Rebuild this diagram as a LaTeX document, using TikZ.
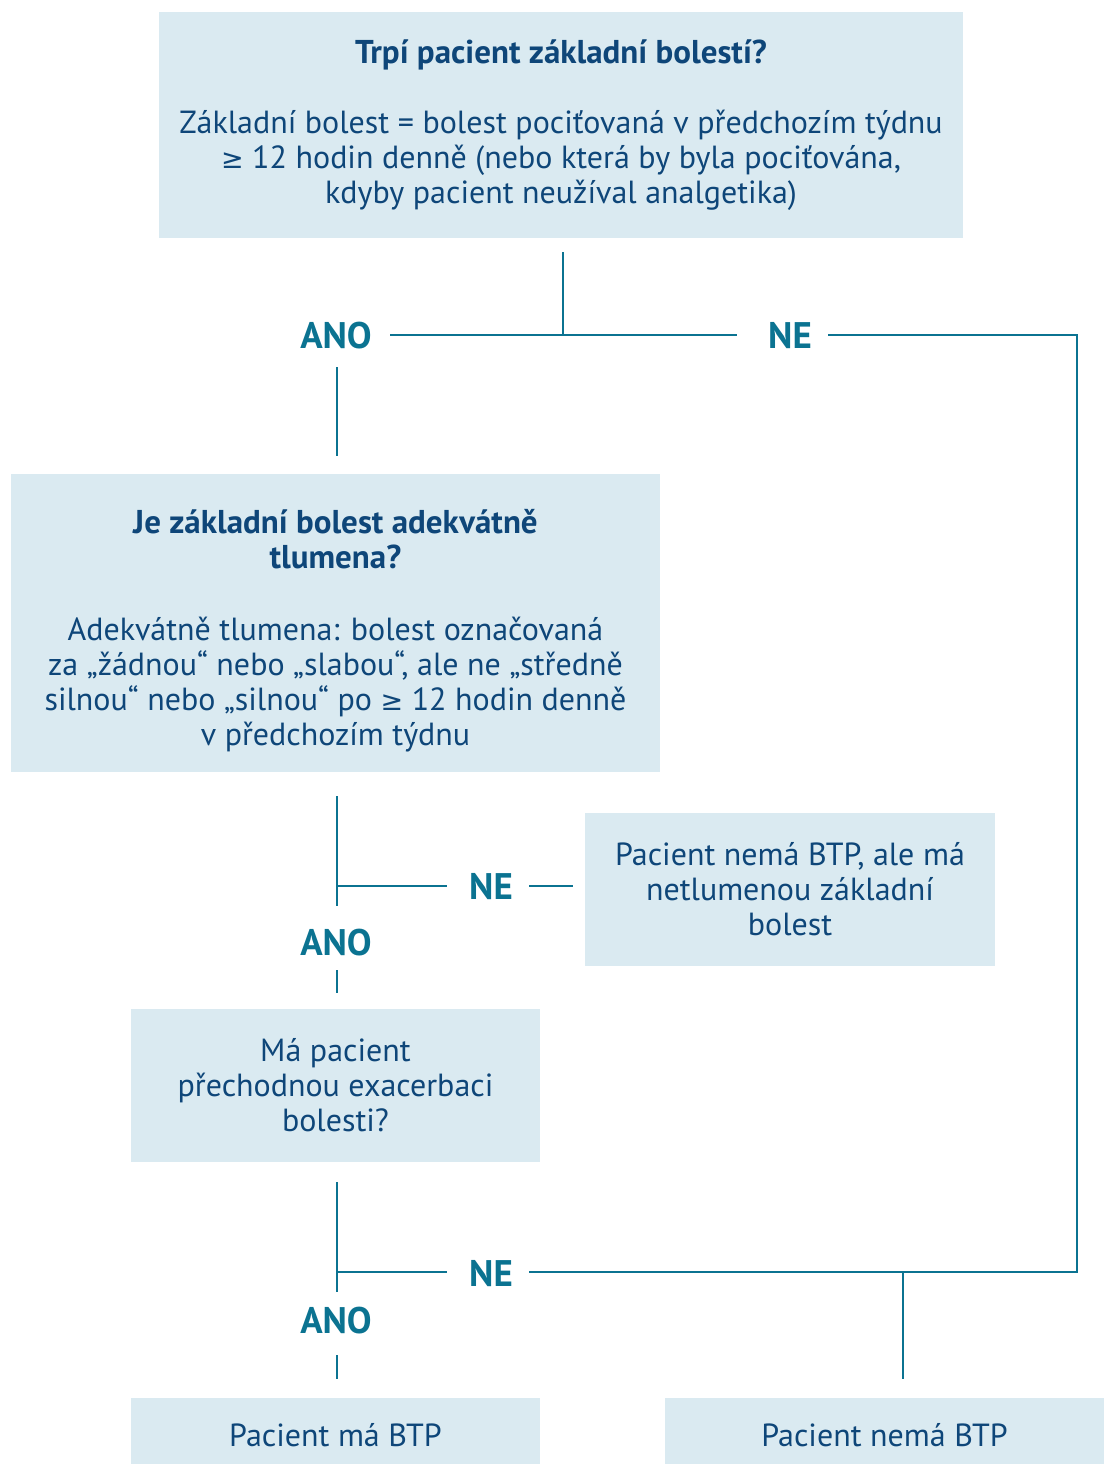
\documentclass[tikz,border=0pt]{standalone}
\usepackage{fontspec}
\setmainfont{PT Sans}
\newfontfamily\symfont{DejaVu Sans}
\newcommand{\mygeq}{{\symfont\fontsize{27}{35}\selectfont ≥}}
\definecolor{boxfill}{HTML}{DAEAF1}
\definecolor{txtblue}{HTML}{0E4679}
\definecolor{lineteal}{HTML}{0B7391}
\newcommand{\ttl}{\fontsize{33}{35}\selectfont\bfseries}
\begin{document}
\begin{tikzpicture}[x=1pt,y=-1pt,
  box/.style={fill=boxfill, text=txtblue, align=center, inner sep=0pt,
    font=\fontsize{32}{35}\selectfont},
  lab/.style={text=lineteal, font=\fontsize{37}{40}\selectfont\bfseries, inner sep=0pt},
  conn/.style={draw=lineteal, line width=2.4pt}]
\useasboundingbox (0,0) rectangle (1104,1464);

% boxes
\node[box, minimum width=804pt, minimum height=226pt] (b1) at (561,125)
  {{\ttl Trpí pacient základní bolestí?}\\[35pt]
   Základní bolest = bolest pociťovaná v předchozím týdnu\\
   \mygeq{} 12 hodin denně (nebo která by byla pociťována,\\
   kdyby pacient neužíval analgetika)};
\node[box, minimum width=649pt, minimum height=298pt] (b2) at (335.5,623)
  {\rule{0pt}{40pt}{\ttl Je základní bolest adekvátně}\\
   {\ttl tlumena?}\\[37pt]
   Adekvátně tlumena: bolest označovaná\\
   za „žádnou“ nebo „slabou“, ale ne „středně\\
   silnou“ nebo „silnou“ po \mygeq{} 12 hodin denně\\
   v předchozím týdnu};
\node[box, minimum width=410pt, minimum height=153pt] (b3) at (790,889.5)
  {Pacient nemá BTP, ale má\\ netlumenou základní\\ bolest};
\node[box, minimum width=409pt, minimum height=153pt] (b4) at (335.5,1085.5)
  {Má pacient\\ přechodnou exacerbaci\\ bolesti?};
\node[box, minimum width=409pt, minimum height=66pt] (b5) at (335.5,1431)
  {\rule{0pt}{32pt}Pacient má BTP};
\node[box, minimum width=439pt, minimum height=66pt] (b6) at (884.5,1431)
  {\rule{0pt}{32pt}Pacient nemá BTP};

% labels
\node[lab] (ano1) at (336,336) {ANO};
\node[lab] (ne1) at (790,336) {NE};
\node[lab] (ne2) at (491,887) {NE};
\node[lab] (ano2) at (336,943) {ANO};
\node[lab] (ne3) at (491,1274) {NE};
\node[lab] (ano3) at (336,1321) {ANO};

% coordinates
\coordinate (t1) at (563,252);
\coordinate (j1) at (563,335);
\coordinate (a1r) at (390,335);
\coordinate (n1l) at (737,335);
\coordinate (n1r) at (828,335);
\coordinate (rc) at (1077,335);
\coordinate (rb) at (1077,1272);
\coordinate (n3r) at (529,1272);
\coordinate (a1t) at (337,367);
\coordinate (a1b) at (337,456);
\coordinate (v2t) at (337,796);
\coordinate (v2b) at (337,906);
\coordinate (h2l) at (337,886);
\coordinate (h2r) at (447,886);
\coordinate (n2r) at (529,886);
\coordinate (n2e) at (573,886);
\coordinate (a2t) at (337,970);
\coordinate (a2b) at (337,993);
\coordinate (v3t) at (337,1182);
\coordinate (v3b) at (337,1292);
\coordinate (h3l) at (337,1272);
\coordinate (h3r) at (447,1272);
\coordinate (a3t) at (337,1355);
\coordinate (a3b) at (337,1379);
\coordinate (d6t) at (903,1272);
\coordinate (d6b) at (903,1379);

% connectors
\draw[conn] (t1) -- (j1);
\draw[conn] (a1r) -- (n1l);
\draw[conn] (n1r) -- (rc) -- (rb) -- (n3r);
\draw[conn] (a1t) -- (a1b);
\draw[conn] (v2t) -- (v2b);
\draw[conn] (h2l) -- (h2r);
\draw[conn] (n2r) -- (n2e);
\draw[conn] (a2t) -- (a2b);
\draw[conn] (v3t) -- (v3b);
\draw[conn] (h3l) -- (h3r);
\draw[conn] (a3t) -- (a3b);
\draw[conn] (d6t) -- (d6b);
\end{tikzpicture}
\end{document}
